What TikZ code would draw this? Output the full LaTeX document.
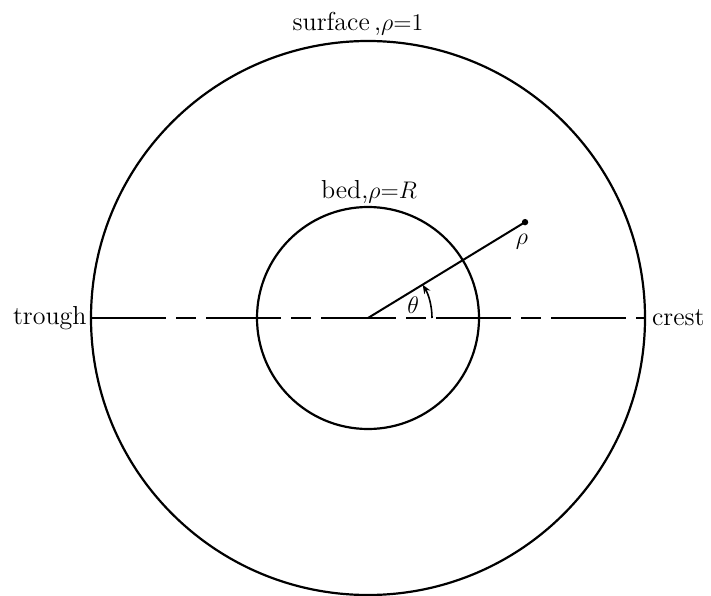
\documentclass[tikz,border=0pt]{standalone}
\usetikzlibrary{arrows.meta}
\begin{document}
\begin{tikzpicture}[x=0.5pt,y=0.5pt,
  rim/.style={line width=1.1pt},
  axis/.style={line width=1pt, dash pattern=on 37.5pt off 5pt on 10pt off 5pt},
  lbl/.style={font=\fontsize{13}{15}\selectfont},
  ar/.style={-{Stealth[length=4.5pt,width=3.5pt]}}
]
\useasboundingbox (0,0) rectangle (711,595);
\coordinate (C) at (368,277);
\draw[rim] (C) circle[radius=277];
\draw[rim] (C) circle[radius=111];

\coordinate (west) at (91,277);
\coordinate (east) at (645,277);
\draw[axis] (west) -- (east);
\node[lbl, left, inner sep=2pt] (trough) at (west) {trough};
\node[lbl, right] (crest) at (east) {crest};

\node[lbl] (surf) at (358,571) {surface\,,$\rho{=}1$};
\node[lbl] (bed) at (369,403) {bed,$\rho{=}R$};

\coordinate (P) at ([shift={(31.4:184)}]C);
\draw[line width=1pt] (C) -- (P);
\fill (P) circle[radius=3.2];
\node[lbl] (rho) at ([shift={(-3,-20)}]P) {$\rho$};

\draw[ar, line width=0.8pt] ([shift={(0:64)}]C) arc[start angle=0, end angle=31.4, radius=64];
\node[lbl] (theta) at ([shift={(16:47)}]C) {$\theta$};
\end{tikzpicture}
\end{document}
